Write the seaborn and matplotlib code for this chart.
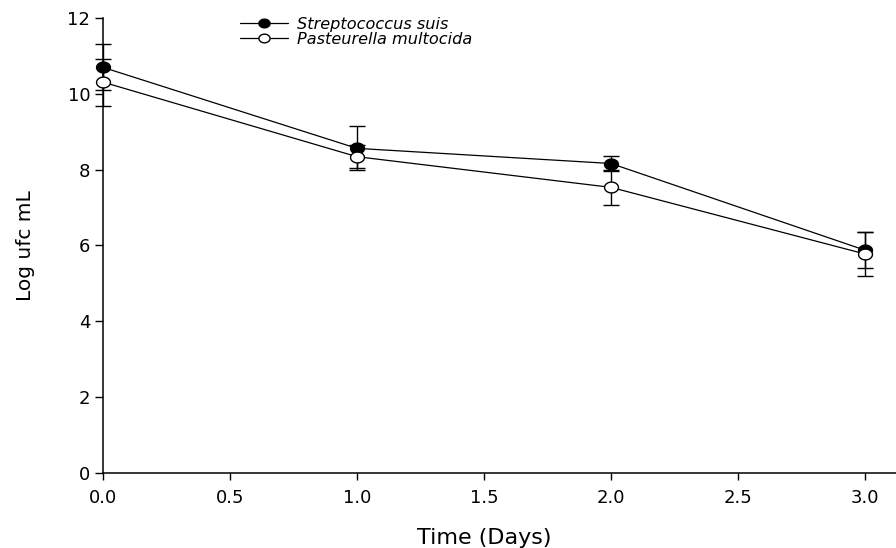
import numpy as np
import pandas as pd
import matplotlib
matplotlib.use("Agg")
import matplotlib.pyplot as plt
from matplotlib.path import Path
import seaborn as sns

# data
days = [0, 1, 2, 3]
strep_mean = [10.70, 8.56, 8.16, 5.87]
strep_err = [0.61, 0.58, 0.20, 0.47]
past_mean = [10.31, 8.34, 7.53, 5.77]
past_err = [0.62, 0.30, 0.47, 0.58]
series_names = ["Streptococcus suis", "Pasteurella multocida"]
y_ticks = [0, 2, 4, 6, 8, 10, 12]
x_ticks = [0.0, 0.5, 1.0, 1.5, 2.0, 2.5, 3.0]

df = pd.DataFrame({
    "day": days * 2,
    "log_ufc": strep_mean + past_mean,
    "err": strep_err + past_err,
    "species": [series_names[0]] * 4 + [series_names[1]] * 4,
})

sns.set_style("ticks")
plt.rcParams["font.family"] = ["DejaVu Sans"]
plt.rcParams.update({
    "axes.linewidth": 1.1,
    "axes.edgecolor": "black",
    "axes.labelcolor": "black",
    "text.color": "black",
    "xtick.color": "black",
    "ytick.color": "black",
})

# slightly wide ellipse marker (the original is stretched horizontally)
theta = np.linspace(0, 2 * np.pi, 73)
ellipse = Path(np.column_stack([np.cos(theta), 0.78 * np.sin(theta)]), closed=True)

fig = plt.figure(figsize=(8.96, 5.48), dpi=100)
ax = fig.add_axes([102.7 / 896, 75.3 / 548, 793.3 / 896, 454.7 / 548])

styles = {
    series_names[0]: dict(markerfacecolor="black"),
    series_names[1]: dict(markerfacecolor="white"),
}

for name in series_names:
    sub = df[df["species"] == name]
    eb = ax.errorbar(sub["day"], sub["log_ufc"], yerr=sub["err"], fmt="none",
                     ecolor="black", elinewidth=1.0, capsize=5.5, capthick=1.0,
                     zorder=2)
    for art in eb.lines[1] + eb.lines[2]:
        art.set_clip_on(False)

for name in series_names:
    sub = df[df["species"] == name]
    sns.lineplot(data=sub, x="day", y="log_ufc", ax=ax, color="black",
                 linewidth=0.9, marker=ellipse, markersize=10,
                 markeredgecolor="black", markeredgewidth=1.0,
                 label=name, zorder=3, clip_on=False, **styles[name])

ax.set_xlim(0, 3.121)
ax.set_ylim(0, 12)
ax.set_xticks(x_ticks)
ax.set_xticklabels([f"{v:.1f}" for v in x_ticks])
ax.set_yticks(y_ticks)
ax.tick_params(axis="both", labelsize=13, width=1.0, color="black")
ax.tick_params(axis="y", length=6, pad=3)
ax.tick_params(axis="x", length=5, pad=7)
sns.despine(ax=ax)

ax.set_xlabel("Time (Days)", fontsize=16)
ax.set_ylabel("Log ufc mL", fontsize=14.5)
ax.xaxis.set_label_coords(0.4806, -0.121)
ax.yaxis.set_label_coords(-0.0853, 0.5)

leg = ax.legend(loc="upper left", bbox_to_anchor=(240 / 896, 1 - 17 / 548),
                bbox_transform=fig.transFigure, frameon=False,
                prop={"style": "italic", "size": 11.6}, borderpad=0,
                borderaxespad=0, labelspacing=0.0, handlelength=2.95,
                handletextpad=0.6, markerscale=0.8)

fig.savefig("out.png", dpi=100)
